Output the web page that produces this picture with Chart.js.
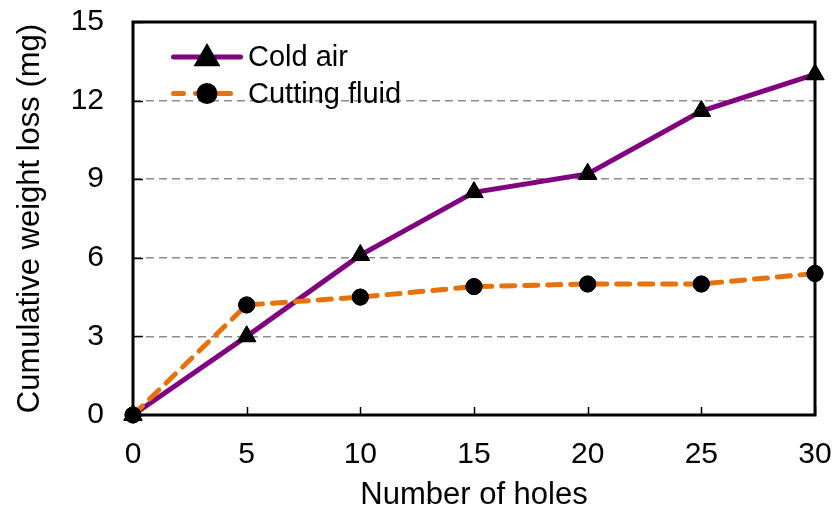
<!DOCTYPE html>
<html>
<head>
<meta charset="utf-8">
<script src="https://cdn.jsdelivr.net/npm/chart.js@4.4.1/dist/chart.umd.min.js"></script>
<style>
html,body{margin:0;padding:0;background:#fff;}
#wrap{width:838px;height:518px;}
</style>
</head>
<body>
<div id="wrap"><canvas id="c" width="838" height="518"></canvas></div>
<script>
const holes = [0, 5, 10, 15, 20, 25, 30];
const coldAir = [0, 3.0, 6.1, 8.5, 9.2, 11.6, 13.0];
const cuttingFluid = [0, 4.2, 4.5, 4.9, 5.0, 5.0, 5.4];
const seriesNames = ['Cold air', 'Cutting fluid'];
const xTitle = 'Number of holes';
const yTitle = 'Cumulative weight loss (mg)';

const FONT = "'Liberation Sans', Arial, sans-serif";
const toPts = (xs, ys) => xs.map((x, i) => ({x: x, y: ys[i]}));

const framePlugin = {
  id: 'frame',
  afterDatasetsDraw(chart) {
    const ctx = chart.ctx, a = chart.chartArea;
    const xs = chart.scales.x, ys = chart.scales.y;
    ctx.save();
    ctx.strokeStyle = '#000';
    ctx.lineWidth = 1.5;
    ctx.setLineDash([]);
    xs.ticks.forEach(t => {
      const px = Math.round(xs.getPixelForValue(t.value)) + 0.5;
      ctx.beginPath(); ctx.moveTo(px, a.bottom); ctx.lineTo(px, a.bottom - 8); ctx.stroke();
    });
    ys.ticks.forEach(t => {
      const py = Math.round(ys.getPixelForValue(t.value)) + 0.5;
      ctx.beginPath(); ctx.moveTo(a.left, py); ctx.lineTo(a.left + 10, py); ctx.stroke();
    });
    ctx.lineWidth = 3;
    ctx.strokeRect(a.left, a.top, a.right - a.left, a.bottom - a.top);
    ctx.restore();
  },
  afterDraw(chart) {
    const ctx = chart.ctx;
    chart.data.datasets.forEach((ds, i) => {
      const meta = chart.getDatasetMeta(i);
      meta.data.forEach(el => {
        ctx.fillStyle = '#000'; ctx.strokeStyle = '#000';
        Chart.helpers.drawPoint(ctx, {
          pointStyle: ds.pointStyle, radius: ds.pointRadius, borderWidth: 1, rotation: 0
        }, el.x, el.y);
      });
    });
  }
};

const legendPlugin = {
  id: 'customLegend',
  afterDraw(chart) {
    const ctx = chart.ctx, a = chart.chartArea;
    ctx.save();
    chart.data.datasets.forEach((ds, i) => {
      const y = a.top + 35 + i * 36.5;
      const L = a.left;
      const xm = L + 74;
      ctx.strokeStyle = ds.borderColor;
      ctx.lineWidth = ds.borderWidth;
      ctx.lineCap = 'round';
      ctx.setLineDash([]);
      const segs = (ds.borderDash && ds.borderDash.length)
        ? [[L + 40.5, L + 50.5], [L + 62.5, xm], [L + 85.5, L + 97.5]]
        : [[L + 40.5, L + 107.5]];
      segs.forEach(s => { ctx.beginPath(); ctx.moveTo(s[0], y); ctx.lineTo(s[1], y); ctx.stroke(); });
      ctx.fillStyle = '#000'; ctx.strokeStyle = '#000';
      Chart.helpers.drawPoint(ctx, {pointStyle: ds.pointStyle, radius: ds.pointRadius, borderWidth: 1, rotation: 0}, xm, y + (ds.pointStyle === 'triangle' ? 1.5 : 0));
      ctx.fillStyle = '#000';
      ctx.font = '29px ' + FONT;
      ctx.textBaseline = 'middle';
      ctx.textAlign = 'left';
      ctx.fillText(ds.label, L + 115, y + 1);
    });
    ctx.restore();
  }
};

new Chart(document.getElementById('c'), {
  type: 'line',
  data: {
    datasets: [
      {
        label: seriesNames[0],
        data: toPts(holes, coldAir),
        borderColor: '#800080',
        borderWidth: 5,
        pointStyle: 'triangle',
        pointRadius: 10.5,
        pointBackgroundColor: '#000',
        pointBorderColor: '#000',
        pointBorderWidth: 1,
        tension: 0,
        clip: false,
        order: 1
      },
      {
        label: seriesNames[1],
        data: toPts(holes, cuttingFluid),
        borderColor: '#E8710A',
        borderWidth: 5,
        borderDash: [13, 10],
        borderCapStyle: 'round',
        pointStyle: 'circle',
        pointRadius: 8,
        pointBackgroundColor: '#000',
        pointBorderColor: '#000',
        pointBorderWidth: 1,
        tension: 0,
        clip: false,
        order: 0
      }
    ]
  },
  options: {
    responsive: false,
    animation: false,
    devicePixelRatio: 1,
    layout: {autoPadding: false, padding: {left: 0, right: 23, top: 22, bottom: 0}},
    plugins: {legend: {display: false}, tooltip: {enabled: false}},
    scales: {
      x: {
        type: 'linear', min: 0, max: 30,
        ticks: {stepSize: 5, color: '#000', font: {family: FONT, size: 30}, padding: 22, maxRotation: 0},
        grid: {display: false, drawTicks: false},
        border: {display: false},
        title: {display: true, text: xTitle, color: '#000', font: {family: FONT, size: 31}, padding: {top: 1}},
        afterFit(s) { s.height = 103; s.paddingLeft = 0; s.paddingRight = 0; }
      },
      y: {
        type: 'linear', min: 0, max: 15,
        ticks: {stepSize: 3, color: '#000', font: {family: FONT, size: 30}, padding: 29},
        grid: {
          drawTicks: false,
          color: ctx => (ctx.tick && (ctx.tick.value === 0 || ctx.tick.value === 15)) ? 'rgba(0,0,0,0)' : '#8c8c8c',
          lineWidth: 1.5
        },
        border: {display: false, dash: [8, 5]},
        title: {display: true, text: yTitle, color: '#000', font: {family: FONT, size: 31}, padding: {bottom: 0, top: 12}},
        afterFit(s) { s.width = 133; s.paddingTop = 0; s.paddingBottom = 0; }
      }
    }
  },
  plugins: [framePlugin, legendPlugin]
});
</script>
</body>
</html>
